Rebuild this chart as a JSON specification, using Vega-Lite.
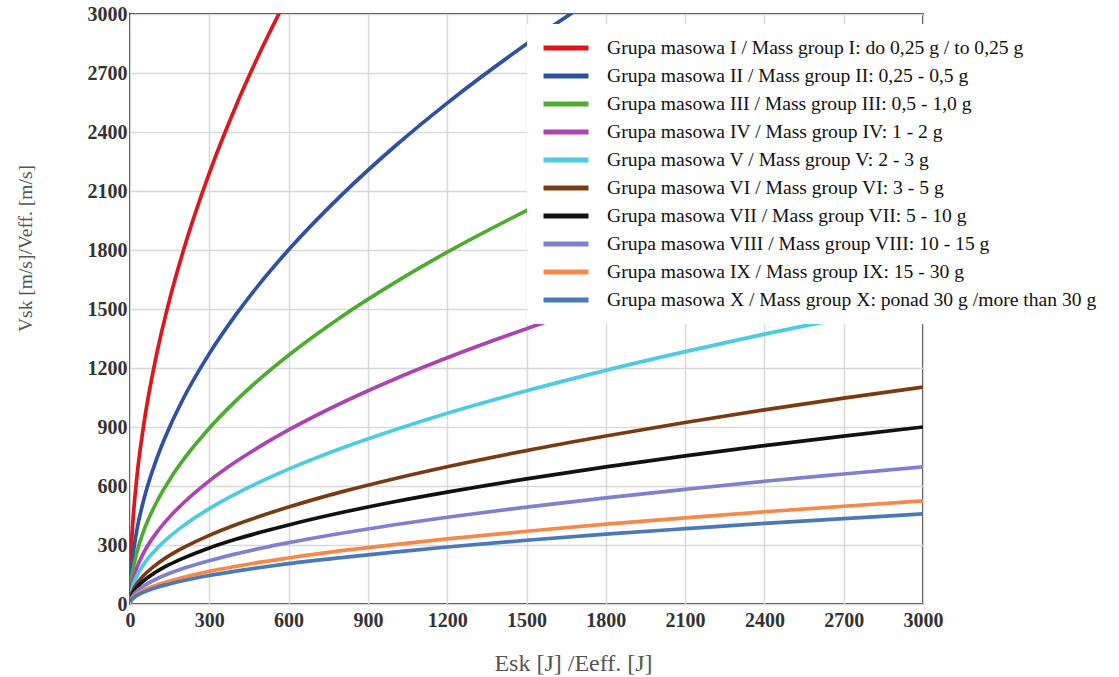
{
  "$schema": "https://vega.github.io/schema/vega-lite/v6.json",
  "autosize": {"type": "none"},
  "padding": {"left": 130, "top": 14, "right": 196, "bottom": 73},
  "width": 793,
  "height": 590,
  "background": "white",
  "datasets": {
    "curves": [
      {"E": 1, "I": 126, "II": 74, "III": 52, "IV": 36, "V": 28, "VI": 20, "VII": 16, "VIII": 13, "IX": 10, "X": 8},
      {"E": 5, "I": 283, "II": 164, "III": 115, "IV": 81, "V": 63, "VI": 45, "VII": 37, "VIII": 28, "IX": 21, "X": 19},
      {"E": 10, "I": 400, "II": 232, "III": 163, "IV": 114, "V": 89, "VI": 64, "VII": 52, "VIII": 40, "IX": 30, "X": 26},
      {"E": 25, "I": 632, "II": 368, "III": 258, "IV": 181, "V": 140, "VI": 101, "VII": 82, "VIII": 64, "IX": 48, "X": 42},
      {"E": 50, "I": 894, "II": 520, "III": 365, "IV": 256, "V": 198, "VI": 142, "VII": 116, "VIII": 90, "IX": 68, "X": 59},
      {"E": 100, "I": 1265, "II": 735, "III": 516, "IV": 362, "V": 280, "VI": 201, "VII": 164, "VIII": 127, "IX": 96, "X": 84},
      {"E": 150, "I": 1549, "II": 900, "III": 632, "IV": 443, "V": 343, "VI": 247, "VII": 201, "VIII": 156, "IX": 117, "X": 102},
      {"E": 200, "I": 1789, "II": 1040, "III": 730, "IV": 511, "V": 396, "VI": 285, "VII": 232, "VIII": 180, "IX": 135, "X": 118},
      {"E": 300, "I": 2191, "II": 1273, "III": 894, "IV": 626, "V": 485, "VI": 349, "VII": 285, "VIII": 220, "IX": 166, "X": 145},
      {"E": 400, "I": 2530, "II": 1470, "III": 1033, "IV": 723, "V": 560, "VI": 403, "VII": 329, "VIII": 255, "IX": 191, "X": 167},
      {"E": 500, "I": 2828, "II": 1644, "III": 1155, "IV": 808, "V": 626, "VI": 450, "VII": 367, "VIII": 285, "IX": 214, "X": 187},
      {"E": 600, "I": 3098, "II": 1801, "III": 1265, "IV": 885, "V": 686, "VI": 493, "VII": 402, "VIII": 312, "IX": 234, "X": 205},
      {"E": 800, "II": 2079, "III": 1461, "IV": 1022, "V": 792, "VI": 570, "VII": 465, "VIII": 360, "IX": 271, "X": 236},
      {"E": 1000, "II": 2325, "III": 1633, "IV": 1143, "V": 885, "VI": 637, "VII": 520, "VIII": 403, "IX": 302, "X": 264},
      {"E": 1200, "II": 2547, "III": 1789, "IV": 1252, "V": 970, "VI": 698, "VII": 569, "VIII": 441, "IX": 331, "X": 290},
      {"E": 1500, "II": 2847, "III": 2000, "IV": 1400, "V": 1084, "VI": 780, "VII": 636, "VIII": 493, "IX": 370, "X": 324},
      {"E": 1800, "II": 3119, "III": 2191, "IV": 1534, "V": 1188, "VI": 854, "VII": 697, "VIII": 540, "IX": 406, "X": 355},
      {"E": 2100, "III": 2366, "IV": 1657, "V": 1283, "VI": 923, "VII": 753, "VIII": 583, "IX": 438, "X": 383},
      {"E": 2400, "III": 2530, "IV": 1771, "V": 1372, "VI": 987, "VII": 805, "VIII": 624, "IX": 469, "X": 410},
      {"E": 2700, "III": 2683, "IV": 1878, "V": 1455, "VI": 1047, "VII": 854, "VIII": 661, "IX": 497, "X": 434},
      {"E": 3000, "III": 2828, "IV": 1980, "V": 1534, "VI": 1103, "VII": 900, "VIII": 697, "IX": 524, "X": 458}
    ],
    "labels": [
      {"g": "I", "label": "Grupa masowa I / Mass group I: do 0,25 g / to 0,25 g"},
      {"g": "II", "label": "Grupa masowa II / Mass group II: 0,25 - 0,5 g"},
      {"g": "III", "label": "Grupa masowa III / Mass group III: 0,5 - 1,0 g"},
      {"g": "IV", "label": "Grupa masowa IV / Mass group IV: 1 - 2 g"},
      {"g": "V", "label": "Grupa masowa V / Mass group V: 2 - 3 g"},
      {"g": "VI", "label": "Grupa masowa VI / Mass group VI: 3 - 5 g"},
      {"g": "VII", "label": "Grupa masowa VII / Mass group VII: 5 - 10 g"},
      {"g": "VIII", "label": "Grupa masowa VIII / Mass group VIII: 10 - 15 g"},
      {"g": "IX", "label": "Grupa masowa IX / Mass group IX: 15 - 30 g"},
      {"g": "X", "label": "Grupa masowa X / Mass group X: ponad 30 g /more  than 30 g"}
    ]
  },
  "data": {"name": "curves"},
  "transform": [
    {"fold": ["I", "II", "III", "IV", "V", "VI", "VII", "VIII", "IX", "X"], "as": ["g", "V"]},
    {"lookup": "g", "from": {"data": {"name": "labels"}, "key": "g", "fields": ["label"]}}
  ],
  "mark": {"type": "line", "strokeWidth": 3.7, "clip": true, "interpolate": "monotone"},
  "encoding": {
    "x": {
      "field": "E", "type": "quantitative",
      "scale": {"domain": [0, 3000], "nice": false, "zero": true},
      "axis": {
        "values": [0, 300, 600, 900, 1200, 1500, 1800, 2100, 2400, 2700, 3000],
        "format": "d",
        "title": "Esk [J] /Eeff. [J]",
        "titleFontSize": 24,
        "titleX": 443, "titleY": 59, "titleBaseline": "middle", "titleAlign": "center",
        "labelPadding": 6
      }
    },
    "y": {
      "field": "V", "type": "quantitative",
      "scale": {"domain": [0, 3000], "nice": false},
      "axis": {
        "values": [0, 300, 600, 900, 1200, 1500, 1800, 2100, 2400, 2700, 3000],
        "format": "d",
        "title": "Vsk [m/s]/Veff. [m/s]",
        "titleFontSize": 19.5,
        "titleX": -105, "titleY": 234, "titleBaseline": "middle", "titleAlign": "center", "titleAngle": -90,
        "labelPadding": 3
      }
    },
    "color": {
      "field": "label", "type": "nominal",
      "scale": {
        "domain": [
          "Grupa masowa I / Mass group I: do 0,25 g / to 0,25 g",
          "Grupa masowa II / Mass group II: 0,25 - 0,5 g",
          "Grupa masowa III / Mass group III: 0,5 - 1,0 g",
          "Grupa masowa IV / Mass group IV: 1 - 2 g",
          "Grupa masowa V / Mass group V: 2 - 3 g",
          "Grupa masowa VI / Mass group VI: 3 - 5 g",
          "Grupa masowa VII / Mass group VII: 5 - 10 g",
          "Grupa masowa VIII / Mass group VIII: 10 - 15 g",
          "Grupa masowa IX / Mass group IX: 15 - 30 g",
          "Grupa masowa X / Mass group X: ponad 30 g /more  than 30 g"
        ],
        "range": ["#e0161c", "#2d52a0", "#4dab30", "#a944b0", "#4dcbe0", "#7a3b12", "#111111", "#7f80cf", "#f5894a", "#4a78b8"]
      },
      "legend": {
        "title": null,
        "orient": "none",
        "legendX": 397,
        "legendY": 10,
        "fillColor": "white",
        "padding": 14,
        "symbolType": "stroke",
        "symbolStrokeWidth": 5,
        "symbolSize": 2025,
        "clipHeight": 20,
        "labelFont": "Liberation Serif",
        "labelFontSize": 19.6,
        "labelColor": "#111111",
        "labelOffset": 16,
        "labelLimit": 0,
        "rowPadding": 8
      }
    }
  },
  "config": {
    "view": {"stroke": "#3a3a3a", "strokeWidth": 2},
    "axis": {
      "grid": true,
      "gridColor": "#d9d9d9",
      "gridWidth": 1.5,
      "domain": false,
      "ticks": false,
      "labelFlush": false,
      "labelFont": "Liberation Serif",
      "labelFontWeight": "bold",
      "labelFontSize": 20,
      "labelColor": "#333333",
      "titleFont": "Liberation Serif",
      "titleFontWeight": "normal",
      "titleFontSize": 21,
      "titleColor": "#555555"
    }
  }
}
